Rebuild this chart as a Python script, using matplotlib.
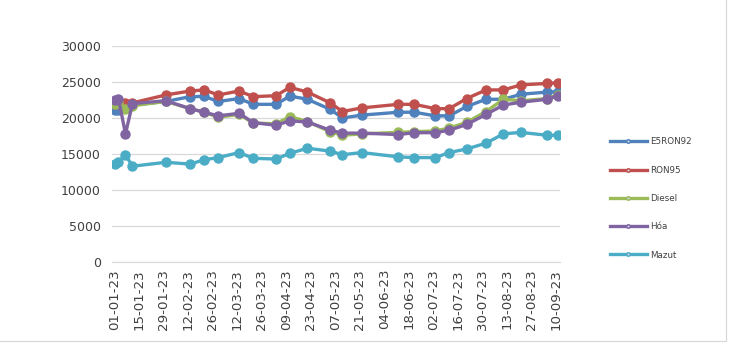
import matplotlib
matplotlib.use('Agg')
import matplotlib.pyplot as plt
import matplotlib.dates as mdates
from matplotlib.patches import Rectangle
import pandas as pd

dates = ['2023-01-01', '2023-01-03', '2023-01-07', '2023-01-11', '2023-01-30',
         '2023-02-13', '2023-02-21', '2023-03-01', '2023-03-13', '2023-03-21',
         '2023-04-03', '2023-04-11', '2023-04-21', '2023-05-04', '2023-05-11',
         '2023-05-22', '2023-06-12', '2023-06-21', '2023-07-03', '2023-07-11',
         '2023-07-21', '2023-08-01', '2023-08-11', '2023-08-21', '2023-09-05',
         '2023-09-11']

e5ron92 = [21100, 21100, 21400, 21800, 22300, 22960, 23000, 22300, 22700, 21900,
           21900, 23050, 22600, 21200, 20000, 20400, 20800, 20800, 20300, 20300,
           21600, 22600, 22600, 23300, 23600, 23650]
ron95 = [22000, 22100, 22100, 22100, 23200, 23750, 23900, 23200, 23750, 22960,
         23100, 24260, 23600, 22100, 20900, 21400, 21900, 21900, 21300, 21300,
         22700, 23900, 23900, 24600, 24800, 24900]
diesel = [22000, 22200, 21300, 21700, 22300, 21300, 20800, 20100, 20500, 19300,
          19200, 20200, 19500, 18100, 17600, 17800, 18000, 18100, 18200, 18600,
          19400, 20900, 22600, 22400, 22700, 23200]
hoa = [22500, 22700, 17800, 22000, 22400, 21300, 20800, 20300, 20650, 19350,
       19000, 19600, 19450, 18300, 17900, 17900, 17700, 17960, 17960, 18300,
       19100, 20500, 21800, 22200, 22600, 23100]
mazut = [13600, 13900, 14900, 13300, 13850, 13600, 14200, 14500, 15200, 14400,
         14300, 15100, 15800, 15400, 14900, 15200, 14600, 14500, 14500, 15200,
         15700, 16500, 17800, 18000, 17600, 17600]

series_names = ['E5RON92', 'RON95', 'Diesel', 'Hóa', 'Mazut']
series_values = [e5ron92, ron95, diesel, hoa, mazut]
colors = ['#4F81BD', '#C0504D', '#9BBB59', '#8064A2', '#4BACC6']

x = pd.to_datetime(dates)

fig = plt.figure(figsize=(7.36, 3.52), dpi=100)
ax = fig.add_axes([112 / 736, 1 - 262 / 352, (560 - 112) / 736, (262 - 46) / 352])

for name, vals, c in zip(series_names, series_values, colors):
    ax.plot(x, vals, color=c, lw=2.4, marker='o', ms=6.5, mec=c, mfc=c,
            label=name, solid_joinstyle='round')

start = pd.Timestamp('2023-01-01')
ax.set_xlim(start - pd.Timedelta(days=1.7), start + pd.Timedelta(days=254.3))
ticks = pd.date_range('2023-01-01', '2023-09-10', freq='14D')
ax.set_xticks(ticks)
ax.xaxis.set_major_formatter(mdates.DateFormatter('%d-%m-%y'))
ax.set_ylim(0, 30000)
ax.set_yticks(range(0, 30001, 5000))
ax.grid(axis='y', color='#D9D9D9', lw=0.9)
ax.set_axisbelow(True)
for s in ['top', 'right', 'left']:
    ax.spines[s].set_visible(False)
ax.spines['bottom'].set_color('#D9D9D9')
ax.tick_params(axis='y', length=0, pad=8, labelsize=9, labelcolor='#404040')
ax.tick_params(axis='x', length=0, pad=5, labelsize=9.6, labelcolor='#404040',
               labelrotation=90)

leg_handles = []
for c in colors:
    h, = ax.plot([], [], color=c, lw=2.4, marker='o', ms=2.5, mfc='#C8D3E6', mec=c)
    leg_handles.append(h)
leg = fig.legend(leg_handles, series_names, loc='center left',
                 bbox_to_anchor=(610 / 736, 1 - 198.5 / 352), frameon=False,
                 fontsize=6.3, handlelength=4.2, handletextpad=0.35,
                 labelspacing=2.2, borderpad=0, borderaxespad=0)
for t in leg.get_texts():
    t.set_color('#404040')

fig.patches.append(Rectangle((-0.01, 1 - 341 / 352), 726 / 736 + 0.01, 341 / 352 + 0.01,
                             transform=fig.transFigure, fill=False,
                             edgecolor='#D9D9D9', lw=0.9))

fig.savefig('out.png', dpi=100)
